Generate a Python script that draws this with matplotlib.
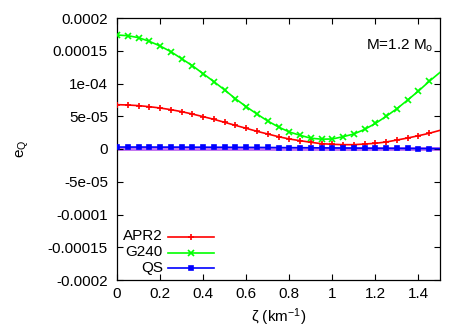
import matplotlib
matplotlib.use("Agg")
import matplotlib.pyplot as plt
from matplotlib.lines import Line2D

plt.rcParams['font.family'] = ['Liberation Sans', 'DejaVu Sans']
plt.rcParams['mathtext.fontset'] = 'custom'
plt.rcParams['mathtext.rm'] = 'Liberation Sans'
plt.rcParams['mathtext.it'] = 'Liberation Sans:italic'

zeta = [0.0, 0.05, 0.1, 0.15, 0.2, 0.25, 0.3, 0.35, 0.4, 0.45, 0.5, 0.55, 0.6, 0.65,
        0.7, 0.75, 0.8, 0.85, 0.9, 0.95, 1.0, 1.05, 1.1, 1.15, 1.2, 1.25, 1.3, 1.35,
        1.4, 1.45, 1.5]
apr2 = [0.677, 0.672, 0.662, 0.646, 0.626, 0.601, 0.570, 0.534, 0.494, 0.453, 0.407,
        0.361, 0.316, 0.270, 0.229, 0.188, 0.153, 0.127, 0.102, 0.081, 0.072, 0.066,
        0.066, 0.076, 0.087, 0.107, 0.137, 0.168, 0.203, 0.240, 0.285]
g240 = [1.740, 1.730, 1.700, 1.644, 1.573, 1.486, 1.379, 1.272, 1.150, 1.028, 0.901,
        0.768, 0.646, 0.534, 0.427, 0.336, 0.260, 0.210, 0.165, 0.150, 0.153, 0.188,
        0.229, 0.300, 0.390, 0.499, 0.616, 0.748, 0.885, 1.033, 1.170]
qs = [0.030, 0.030, 0.030, 0.030, 0.029, 0.029, 0.029, 0.028, 0.028, 0.027, 0.027,
      0.026, 0.025, 0.024, 0.023, 0.022, 0.021, 0.020, 0.019, 0.017, 0.016, 0.015,
      0.014, 0.012, 0.011, 0.010, 0.009, 0.008, 0.007, 0.006, 0.005]
scale = 1e-4

series_labels = ['APR2', 'G240', 'QS']
series_colors = ['#ff0000', '#00ff00', '#0000ff']
series_markers = ['+', 'x', 's']

yticks = [0.0002, 0.00015, 0.0001, 0.00005, 0.0, -0.00005, -0.0001, -0.00015, -0.0002]
ytick_labels = ['0.0002', '0.00015', '1e-04', '5e-05', '0', '-5e-05', '-0.0001',
                '-0.00015', '-0.0002']
xticks = [0, 0.2, 0.4, 0.6, 0.8, 1.0, 1.2, 1.4]
xtick_labels = ['0', '0.2', '0.4', '0.6', '0.8', '1', '1.2', '1.4']

FS = 11

fig = plt.figure(figsize=(4.67, 3.27), dpi=100)
ax = fig.add_axes([117/467, 1 - 280/327, 323/467, 262/327])

ax.axhline(0, color='#c070f0', lw=2.8, zorder=1)

data = [apr2, g240, qs]
msizes = [5, 5, 3.4]
for vals, lab, c, m, ms in zip(data, series_labels, series_colors, series_markers, msizes):
    y = [v * scale for v in vals]
    ax.plot(zeta, y, color=c, lw=1.2, marker=m, ms=ms, mew=1.2,
            markevery=slice(0, 30), zorder=3)

ax.set_xlim(0, 1.5)
ax.set_ylim(-0.0002, 0.0002)
ax.set_xticks(xticks)
ax.set_xticklabels(xtick_labels)
ax.set_yticks(yticks)
ax.set_yticklabels(ytick_labels)
ax.tick_params(direction='in', length=4, width=0.8, top=True, right=True,
               labelsize=FS, colors='black')
ax.tick_params(axis='y', pad=6.5)
ax.tick_params(axis='x', pad=5)
for s in ax.spines.values():
    s.set_linewidth(0.9)

ax.set_xlabel(r'ζ (km$^{-1}$)', fontsize=FS, labelpad=4)
ax.set_ylabel(r'e$_\mathregular{Q}$', fontsize=FS, labelpad=12)

ax.text(0.978, 0.893, r'M=1.2 M$_\mathregular{o}$', transform=ax.transAxes,
        ha='right', va='center', fontsize=FS)

# legend (gnuplot style: text right-justified, sample on the right)
leg_y = [(280 - 236.5) / 262, (280 - 252.5) / 262, (280 - 268) / 262]
tx = (163 - 117) / 323
lx0 = (168 - 117) / 323
lx1 = (214 - 117) / 323
for yy, lab, c, m, ms in zip(leg_y, series_labels, series_colors, series_markers, msizes):
    ax.text(tx, yy, lab, transform=ax.transAxes, ha='right', va='center', fontsize=FS)
    ax.add_line(Line2D([lx0, lx1], [yy, yy], transform=ax.transAxes, color=c, lw=1.2))
    ax.add_line(Line2D([(lx0 + lx1) / 2], [yy], transform=ax.transAxes, color=c,
                       marker=m, ms=ms, mew=1.2))

fig.savefig('out.png', dpi=100)
